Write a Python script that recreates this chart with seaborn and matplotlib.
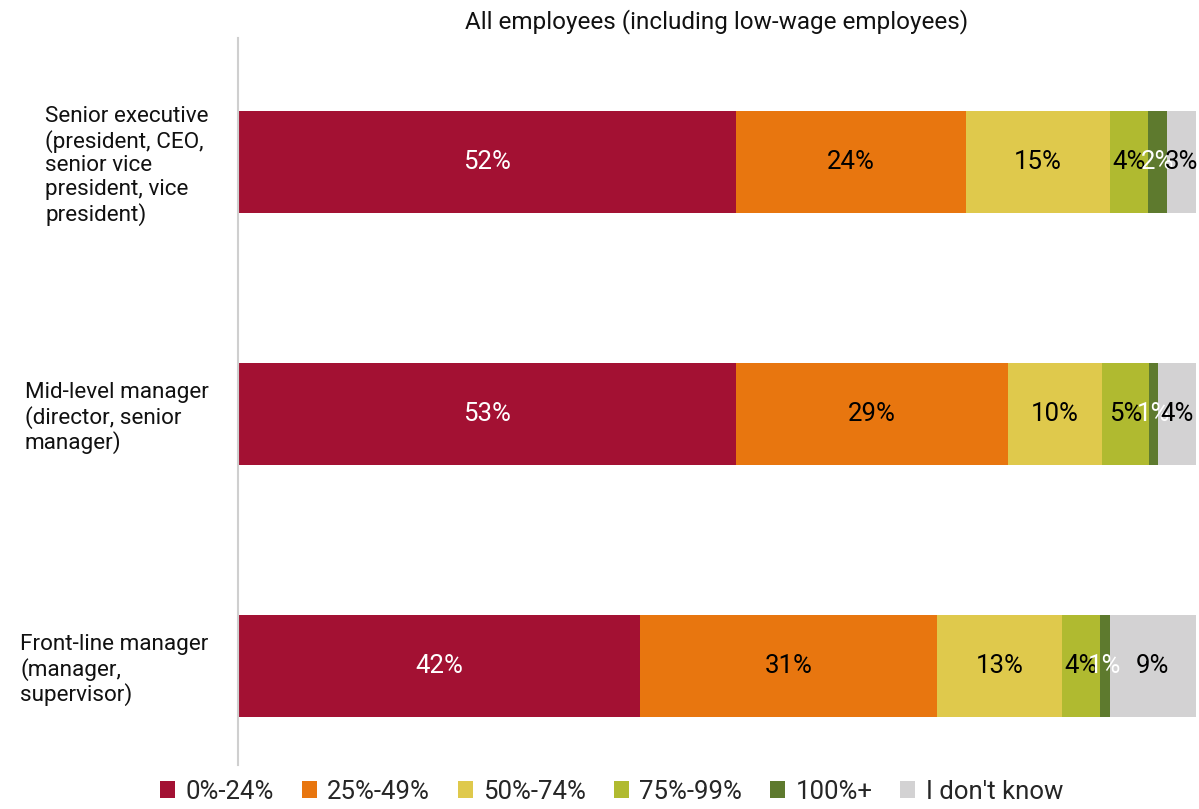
import numpy as np
import pandas as pd
import matplotlib.pyplot as plt
import seaborn as sns
from matplotlib.patches import Patch

sns.set_theme(style="white")
plt.rcParams['font.family'] = ['Roboto', 'DejaVu Sans']

# Datos
roles = [
    "Senior executive\n(president, CEO,\nsenior vice\npresident, vice\npresident)",
    "Mid-level manager\n(director, senior\nmanager)",
    "Front-line manager\n(manager,\nsupervisor)",
]
bands = ["0%-24%", "25%-49%", "50%-74%", "75%-99%", "100%+", "I don't know"]
senior = [52, 24, 15, 4, 2, 3]
mid = [53, 29, 10, 5, 1, 4]
front = [42, 31, 13, 4, 1, 9]
colors = ["#A31133", "#E8760F", "#DFC94C", "#B0BA30", "#5E7A2E", "#D3D2D3"]
label_colors = ["white", "black", "black", "black", "white", "black"]

values = pd.DataFrame([senior, mid, front], index=roles, columns=bands)
# cada barra ocupa el 100% del eje
shares = values.div(values.sum(axis=1), axis=0) * 100
cum = shares.cumsum(axis=1)

fig = plt.figure(figsize=(11.99, 8.09), dpi=100)
ax = fig.add_axes([0.1985, 0.054, 0.799, 0.899])

# Barras apiladas: se dibuja de la última a la primera con sumas acumuladas
for i in range(len(bands) - 1, -1, -1):
    df = pd.DataFrame({'role': roles, 'x': cum[bands[i]].values})
    sns.barplot(data=df, x='x', y='role', orient='h', color=colors[i],
                saturation=1, width=0.405, ax=ax, linewidth=0)

# Etiquetas de porcentaje
for r, role in enumerate(roles):
    for i, band in enumerate(bands):
        center = cum.loc[role, band] - shares.loc[role, band] / 2
        ax.text(center, r, f"{values.loc[role, band]}%", ha='center', va='center',
                fontsize=18.5, color=label_colors[i])

ax.set_xlim(0, 100)
ax.set_ylim(2.393, -0.492)
ax.set_xlabel('')
ax.set_ylabel('')
ax.set_xticks([])
ax.tick_params(axis='y', length=0, pad=21)
for lab in ax.get_yticklabels():
    lab.set_multialignment('left')
    lab.set_fontsize(16.2)
    lab.set_color('#111111')
    lab.set_linespacing(1.15)

for s in ['top', 'right', 'bottom']:
    ax.spines[s].set_visible(False)
ax.spines['left'].set_color('#cfcfcf')
ax.spines['left'].set_linewidth(1.5)

ax.set_title("All employees (including low-wage employees)", fontsize=17.5, pad=7,
             color='#111111')

handles = [Patch(facecolor=c, edgecolor='none') for c in colors]
fig.legend(handles, bands, loc='lower center', bbox_to_anchor=(0.51, -0.022),
           ncol=6, frameon=False, fontsize=18.5, handlelength=0.6, handleheight=0.6,
           handletextpad=0.4, columnspacing=1.07)

fig.savefig('out.png', dpi=100)
